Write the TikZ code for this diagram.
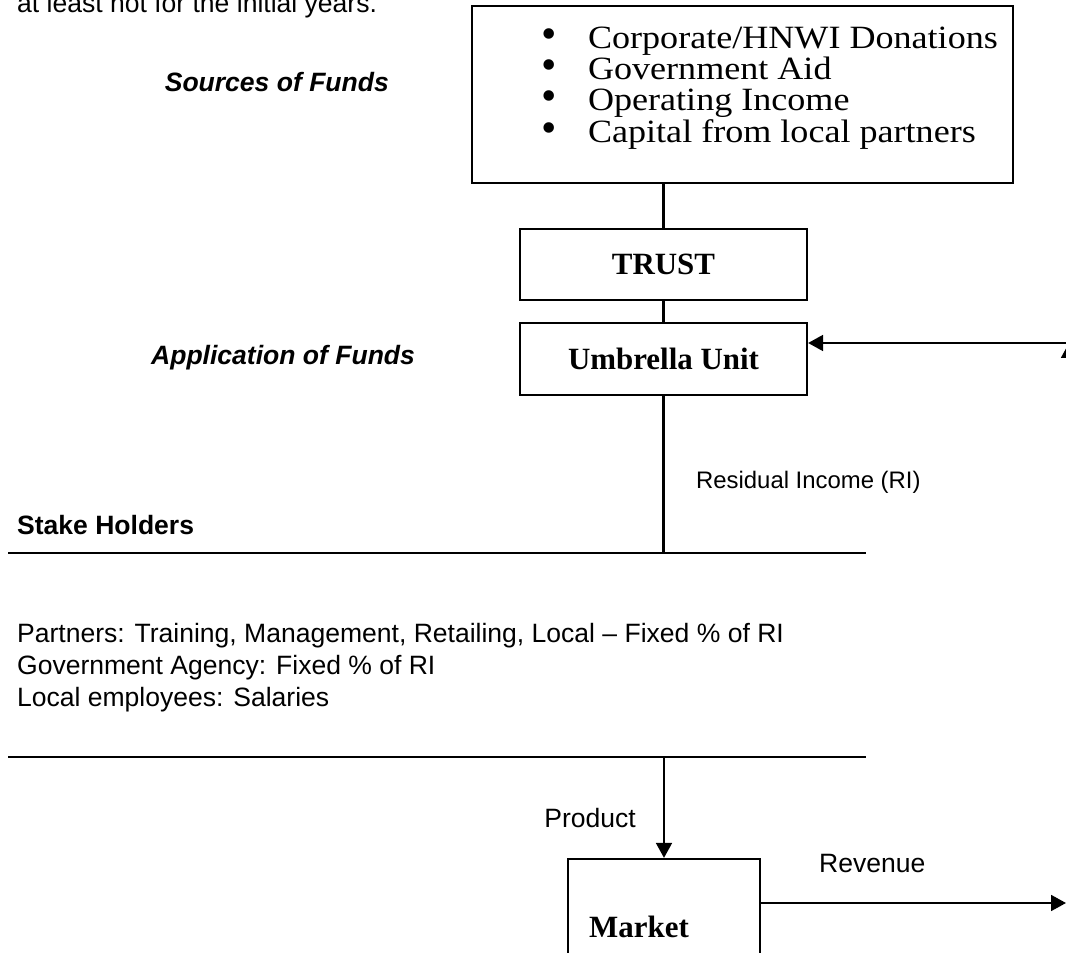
\documentclass[tikz,border=0pt]{standalone}
\usepackage{fontspec}
\setmainfont{Liberation Serif}
\setsansfont{Liberation Sans}
\usetikzlibrary{arrows.meta}

\newcommand{\blt}{\makebox[26.7pt][l]{\scalebox{1.35}{\textbullet}}}

\begin{document}
\begin{tikzpicture}[x=0.02cm,y=-0.02cm,line width=1.3pt,
      txt/.style={font=\fontsize{15.1}{18}\selectfont\sffamily,anchor=west,inner sep=0pt},
      hdr/.style={txt,font=\fontsize{15.1}{18}\selectfont\sffamily\bfseries\itshape},
      item/.style={anchor=base west,inner sep=0pt,font=\fontsize{18.5}{22}\selectfont},
      unit/.style={draw,minimum width=5.74cm,minimum height=1.43cm,inner sep=0pt,
        font=\fontsize{17.6}{20}\selectfont\bfseries},
      tip/.style={-{Triangle[length=8.5pt,width=9pt]}}]
    \useasboundingbox (0,0) rectangle (1066,953);
    \clip (0,0) rectangle (1066,953);

    \node[txt,anchor=base west] (intro) at (16,13) {at least not for the initial years.};
    \node[hdr,anchor=east] (sources) at (390,82) {Sources of Funds};
    \node[hdr] (application) at (150,358) {Application of Funds};

    % funds box
    \node[draw,minimum width=10.82cm,minimum height=3.54cm] (src) at (742.5,94.5) {};
    \foreach \t [count=\i] in {Corporate/HNWI Donations,Government Aid,Operating Income,Capital from local partners}
      \node[item] (item\i) at (540,{17+31.3*\i}) {\blt\scalebox{1.11}[1]{\t}};

    \node[unit] (trust) at (663.5,264.5) {TRUST};
    \node[unit] (umbrella) at (663.5,359) {Umbrella Unit};
    \node[draw,minimum width=3.84cm,minimum height=2.72cm,inner sep=0pt,
      font=\fontsize{17.6}{20}\selectfont\bfseries] (market) at (664,927) {\hspace*{-1cm}Market};

    \draw (trust.north) -- (trust.north |- src.south);
    \draw (trust.south) -- (umbrella.north);

    \node[txt,font=\fontsize{13.6}{16}\selectfont\sffamily] (ri) at (695,482) {Residual Income (RI)};
    \node[txt,font=\fontsize{15.1}{18}\selectfont\sffamily\bfseries] (stake) at (16,525) {Stake Holders};
    \coordinate (r1w) at (8,553);
    \coordinate (r1e) at (866,553);
    \draw (r1w) -- (r1e);
    \draw (umbrella.south) -- (umbrella.south |- r1w);

    \node[txt] (partners) at (16,636) {Partners: Training, Management, Retailing, Local -- Fixed \% of RI};
    \node[txt] (agency) at (16,668) {Government Agency: Fixed \% of RI};
    \node[txt] (staff) at (16,700) {Local employees: Salaries};
    \coordinate (r2w) at (8,757);
    \coordinate (r2e) at (866,757);
    \draw (r2w) -- (r2e);

    \node[txt,anchor=east] (product) at (637,818) {Product};
    \draw[tip] (r2w -| market.north) -- (market.north);

    \node[txt] (revenue) at (818,863) {Revenue};
    \coordinate (revend) at (1066,903);
    \draw[tip] (revend -| market.east) -- (revend);

    % feedback to umbrella unit
    \coordinate (fbtop) at (1069,343);
    \coordinate (fbfoot) at (1069,700);
    \draw[tip] (fbtop) -- (fbtop -| umbrella.east);
    \draw[tip] (fbfoot) -- (fbtop);
  \end{tikzpicture}
\end{document}
